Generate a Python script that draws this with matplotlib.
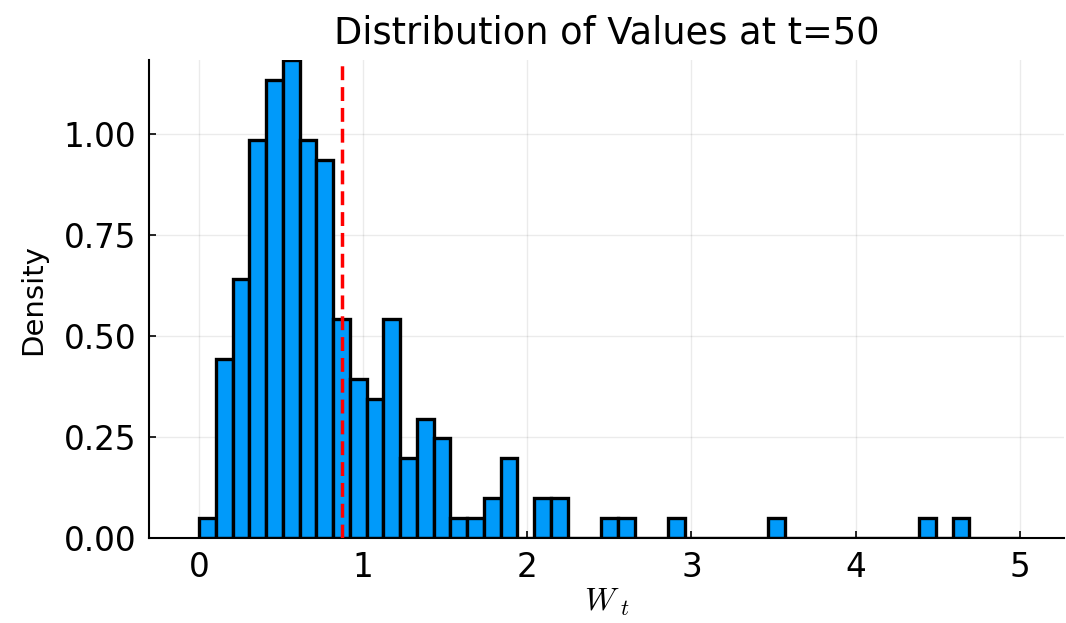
import numpy as np
import matplotlib.pyplot as plt

# histogram of W_t at t=50: 49 equal bins on [0, 5], counts per bin
bin_edges = np.linspace(0, 5, 50)
counts = [1, 9, 13, 20, 23, 24, 20, 19, 11, 8,
          7, 11, 4, 6, 5, 1, 1, 2, 4, 0,
          2, 2, 0, 0, 1, 1, 0, 0, 1, 0,
          0, 0, 0, 0, 1, 0, 0, 0, 0, 0,
          0, 0, 0, 1, 0, 1, 0, 0, 0]
mean_value = 0.87

counts = np.array(counts, dtype=float)
width = np.diff(bin_edges)
density = counts / (counts.sum() * width)

fig = plt.figure(figsize=(10.66, 6.23), dpi=100)
ax = fig.add_axes([0.1398, 0.1364, 0.8582, 0.7673])

ax.bar(bin_edges[:-1], density, width=width, align="edge",
       color="#009AFA", edgecolor="black", linewidth=2.4, zorder=2)
ax.axvline(mean_value, color="red", linestyle=(0, (4, 2)), linewidth=2.5, zorder=3)

ax.set_xlim(-0.306, 5.27)
ax.set_ylim(0, density.max())
ax.set_xticks([0, 1, 2, 3, 4, 5])
ax.set_yticks([0, 0.25, 0.5, 0.75, 1.0])
ax.set_yticklabels(["0.00", "0.25", "0.50", "0.75", "1.00"])
ax.grid(True, color="black", alpha=0.08, linewidth=1, zorder=0)
ax.set_axisbelow(True)

for side in ["top", "right"]:
    ax.spines[side].set_visible(False)
for side in ["left", "bottom"]:
    ax.spines[side].set_linewidth(1.5)
ax.tick_params(direction="in", length=5, width=1.2, labelsize=23.5, pad=9)

ax.set_title("Distribution of Values at t=50", fontsize=26.5, pad=12)
ax.set_ylabel("Density", fontsize=21, labelpad=12)
ax.set_xlabel(r"$W\,_t$", fontsize=23, math_fontfamily="cm", labelpad=2)

fig.savefig("out.png", dpi=100)
